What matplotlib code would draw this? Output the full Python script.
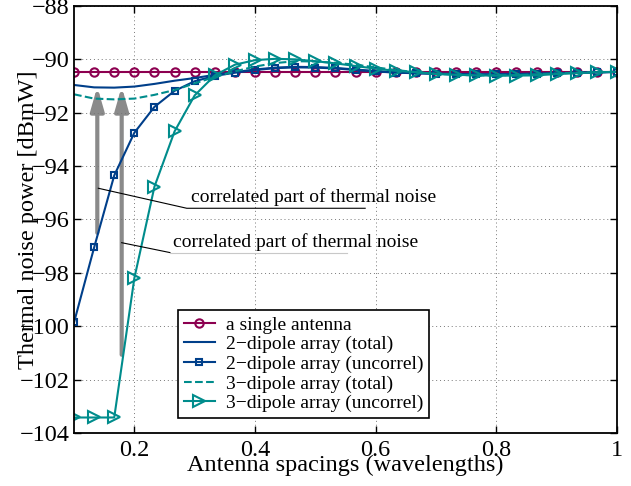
import numpy as np
import matplotlib
matplotlib.use("Agg")
import matplotlib.pyplot as plt

plt.rcParams['font.family'] = ['Liberation Serif', 'DejaVu Serif']

# antenna spacing in wavelengths
spacing = np.linspace(0.1, 1.0, 28)

single = [-90.47] * 28
two_total = [-90.96, -91.05, -91.06, -91.02, -90.92, -90.8, -90.7, -90.58,
             -90.48, -90.38, -90.31, -90.28, -90.29, -90.32, -90.38, -90.44,
             -90.49, -90.52, -90.54, -90.55, -90.56, -90.56, -90.55, -90.54,
             -90.52, -90.5, -90.49, -90.47]
two_uncorr = [-99.86, -97.05, -94.35, -92.75, -91.78, -91.18, -90.82, -90.62,
              -90.5, -90.4, -90.33, -90.3, -90.31, -90.34, -90.4, -90.45,
              -90.5, -90.52, -90.54, -90.55, -90.56, -90.56, -90.55, -90.54,
              -90.52, -90.5, -90.49, -90.47]
three_total = [-91.31, -91.47, -91.5, -91.47, -91.33, -91.15, -90.9, -90.66,
               -90.45, -90.27, -90.14, -90.07, -90.08, -90.13, -90.2, -90.3,
               -90.4, -90.48, -90.54, -90.58, -90.6, -90.6, -90.59, -90.56,
               -90.53, -90.5, -90.48, -90.47]
three_uncorr = [-103.42, -103.42, -103.42, -98.2, -94.77, -92.7, -91.35, -90.6,
                -90.2, -90.03, -89.98, -90.0, -90.07, -90.15, -90.25, -90.35,
                -90.43, -90.48, -90.55, -90.58, -90.6, -90.61, -90.61, -90.6,
                -90.55, -90.52, -90.48, -90.47]

labels = ['a single antenna', '2\u2212dipole array (total)',
          '2\u2212dipole array (uncorrel)', '3\u2212dipole array (total)',
          '3\u2212dipole array (uncorrel)']

# arrows: x position, start, end
arrow_x = [0.1386, 0.179]
arrow_from = [-96.5, -101.07]
arrow_to = [-91.02, -91.02]

note = 'correlated part of thermal noise'

magenta = '#8c0050'
blue = '#003f8a'
teal = '#008c8c'

fig = plt.figure(figsize=(6.31, 4.86), dpi=100)
ax = fig.add_axes([0.1173, 0.1091, 0.8605, 0.8786])

ax.plot(spacing, single, '-o', color=magenta, lw=1.5, ms=6, mfc='none', mew=1.5, label=labels[0])
ax.plot(spacing, two_total, '-', color=blue, lw=1.5, label=labels[1])
ax.plot(spacing, two_uncorr, '-s', color=blue, lw=1.5, ms=5, mfc='none', mew=1.5, label=labels[2])
ax.plot(spacing, three_total, '--', color=teal, lw=1.5, label=labels[3])
ax.plot(spacing, three_uncorr, '->', color=teal, lw=1.5, ms=8, mfc='none', mew=1.5, label=labels[4])

for xa, y0, y1 in zip(arrow_x, arrow_from, arrow_to):
    ax.annotate('', xy=(xa, y1), xytext=(xa, y0),
                arrowprops=dict(arrowstyle='-|>,head_length=1.4,head_width=0.4',
                                color='#8a8a8a', lw=3, shrinkA=0, shrinkB=0),
                zorder=1.5)

# leader lines and texts
ax.plot([0.1403, 0.2869, 0.5826], [-94.83, -95.58, -95.58], color='k', lw=0.8)
ax.text(0.294, -95.33, note, fontsize=14, va='baseline', ha='left')
ax.plot([0.179, 0.259], [-96.87, -97.24], color='k', lw=0.8)
ax.plot([0.259, 0.552], [-97.24, -97.24], color='#c8c8c8', lw=0.8)
ax.text(0.2637, -97.04, note, fontsize=14, va='baseline', ha='left')

ax.set_xlim(0.1, 1.0)
ax.set_ylim(-104, -88)
ax.set_xticks([0.2, 0.4, 0.6, 0.8, 1.0])
ax.set_xticklabels(['0.2', '0.4', '0.6', '0.8', '1'])
ax.set_yticks(np.arange(-104, -87, 2))
ax.tick_params(direction='in', top=True, right=True, length=5, width=1, labelsize=17.5)
ax.tick_params(axis='x', pad=5)
ax.tick_params(axis='y', pad=3)
ax.grid(True, linestyle=(0, (1, 3)), color='#777777', lw=0.7)
for s in ax.spines.values():
    s.set_linewidth(1.3)

ax.set_xlabel('Antenna spacings (wavelengths)', fontsize=17.5)
ax.set_ylabel('Thermal noise power [dBmW]', fontsize=17.5)
ax.xaxis.set_label_coords(0.5, -0.05)
ax.yaxis.set_label_coords(-0.065, 0.5)

leg = ax.legend(loc='lower left', bbox_to_anchor=(0.1915, 0.0351), fontsize=14,
                frameon=True, fancybox=False, borderaxespad=0, borderpad=0.3,
                labelspacing=0.1, handlelength=1.6, handletextpad=0.55)
leg.get_frame().set_edgecolor('k')
leg.get_frame().set_linewidth(1.2)
leg.get_frame().set_alpha(1)

fig.savefig('out.png', dpi=100)
